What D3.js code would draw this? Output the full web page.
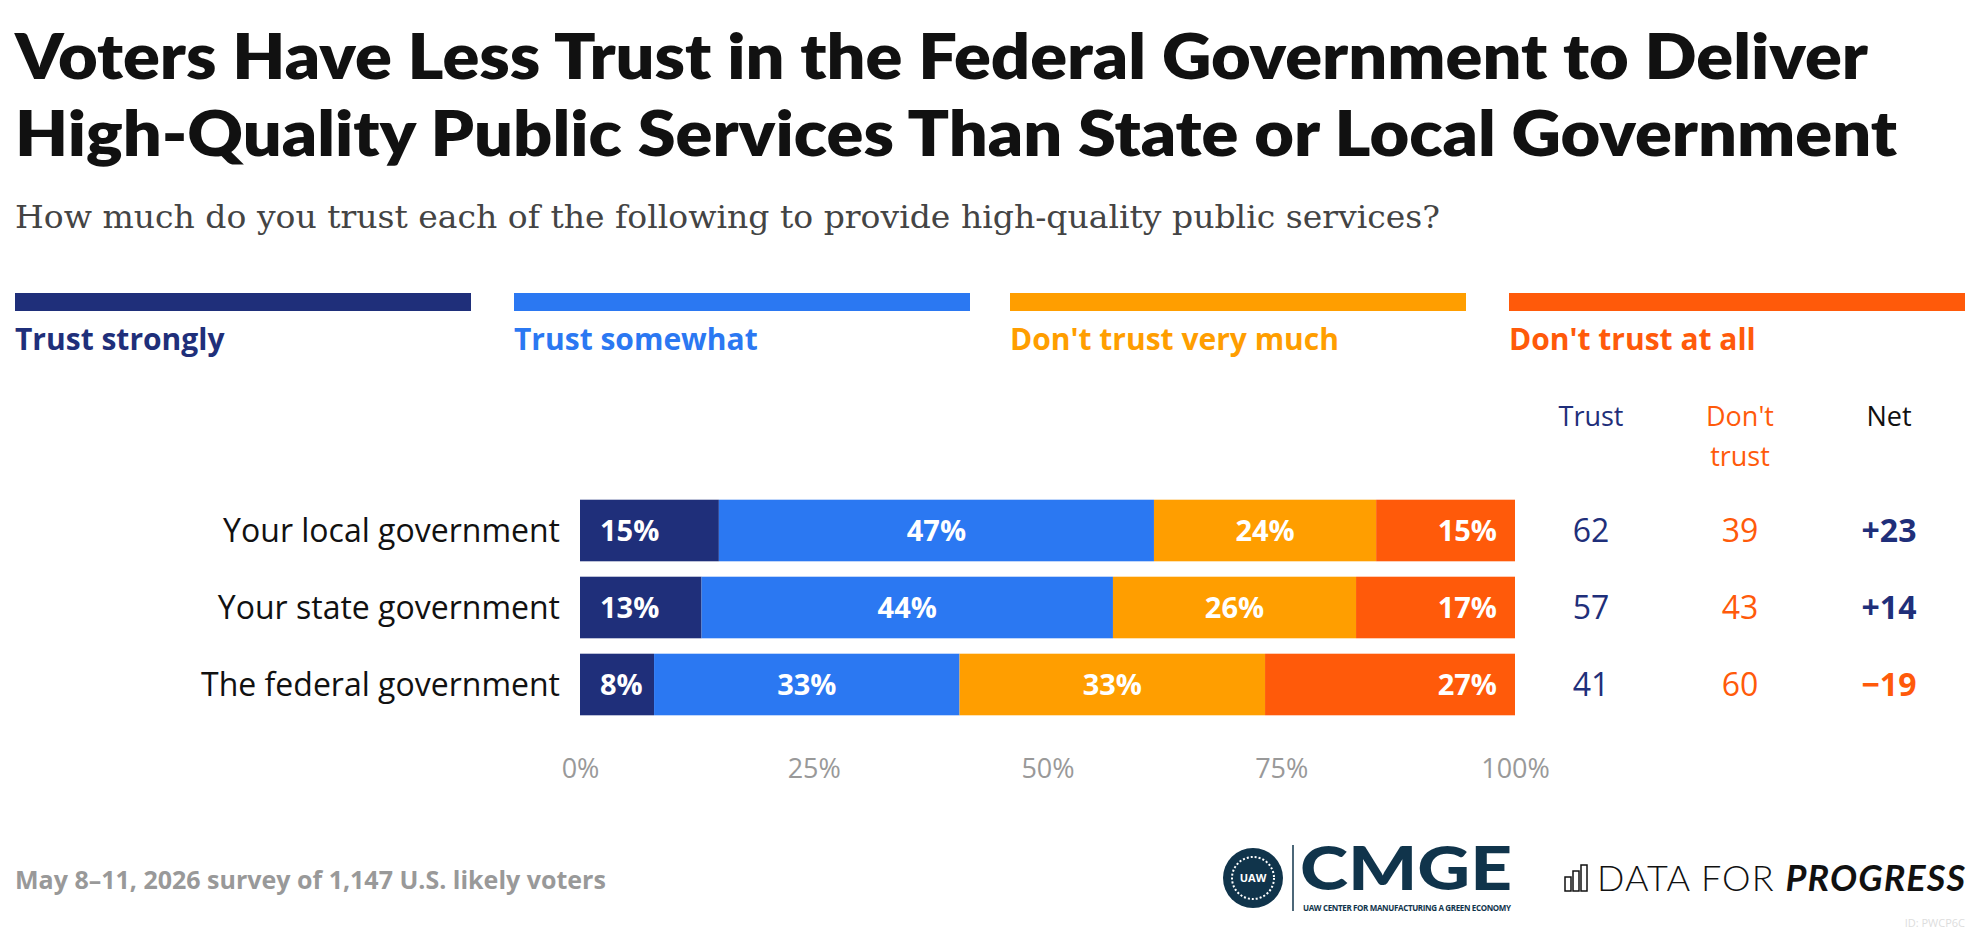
<!DOCTYPE html>
<html><head><meta charset="utf-8">
<script src="https://cdn.jsdelivr.net/npm/d3@7"></script>
<style>body{margin:0;background:#fff}svg{display:block;font-family:"Open Sans",sans-serif}</style>
</head><body><svg id="c" width="1980" height="934"></svg>
<script>
var categories = ["Your local government", "Your state government", "The federal government"];
var seriesNames = ["Trust strongly", "Trust somewhat", "Don't trust very much", "Don't trust at all"];
var colors = ["#1f2f7a", "#2b78f2", "#ff9e00", "#ff5a0a"];
var trustStrongly = [15, 13, 8];
var trustSomewhat = [47, 44, 33];
var notVeryMuch = [24, 26, 33];
var notAtAll = [15, 17, 27];
var trustTotal = [62, 57, 41];
var dontTrustTotal = [39, 43, 60];
var netValues = ["+23", "+14", "\u221219"];
var ticks = [0, 25, 50, 75, 100];

var svg = d3.select('#c');
svg.append('text').attr('x', 15).attr('y', 79).attr('font-size', 62).attr('font-weight', 800).attr('fill', '#111')
	.attr('font-family', 'Lato,sans-serif').attr('textLength', 1853).attr('lengthAdjust', 'spacingAndGlyphs')
	.text('Voters Have Less Trust in the Federal Government to Deliver');
svg.append('text').attr('x', 15).attr('y', 156).attr('font-size', 62).attr('font-weight', 800).attr('fill', '#111')
	.attr('font-family', 'Lato,sans-serif').attr('textLength', 1882).attr('lengthAdjust', 'spacingAndGlyphs')
	.text('High-Quality Public Services Than State or Local Government');
svg.append('text').attr('x', 15).attr('y', 228).attr('fill', '#444')
	.attr('font-family', '"DejaVu Serif",serif').attr('font-size', 31).attr('textLength', 1425).attr('lengthAdjust', 'spacingAndGlyphs')
	.text('How much do you trust each of the following to provide high-quality public services?');

var legendX = [15, 514, 1010, 1509];
seriesNames.forEach(function (s, i) {
	svg.append('rect').attr('x', legendX[i]).attr('y', 293).attr('width', 456).attr('height', 18).attr('fill', colors[i]);
	svg.append('text').attr('x', legendX[i]).attr('y', 350).attr('font-size', 30).attr('font-weight', 700)
		.attr('fill', colors[i]).text(s);
});

var x = d3.scaleLinear().domain([0, 100]).range([580, 1515]);
var y = d3.scaleBand().domain(categories).range([492, 723]).paddingInner(0.2).paddingOuter(0.1);

var rows = categories.map(function (c, i) {
	var vals = [trustStrongly[i], trustSomewhat[i], notVeryMuch[i], notAtAll[i]];
	var total = d3.sum(vals), acc = 0;
	return vals.map(function (v, k) {
		var seg = {cat: c, v: v, k: k, x0: acc / total * 100, x1: (acc + v) / total * 100};
		acc += v;
		return seg;
	});
});

var g = svg.append('g');
rows.forEach(function (segs) {
	g.selectAll(null).data(segs).enter().append('rect')
		.attr('x', function (d) { return x(d.x0); })
		.attr('width', function (d) { return x(d.x1) - x(d.x0); })
		.attr('y', y(segs[0].cat)).attr('height', y.bandwidth())
		.attr('fill', function (d) { return colors[d.k]; });
	g.selectAll(null).data(segs).enter().append('text')
		.attr('x', function (d) { return d.k === 0 ? x(d.x0) + 20 : d.k === 3 ? x(d.x1) - 18 : (x(d.x0) + x(d.x1)) / 2; })
		.attr('text-anchor', function (d) { return d.k === 0 ? 'start' : d.k === 3 ? 'end' : 'middle'; })
		.attr('y', y(segs[0].cat) + y.bandwidth() / 2).attr('dy', '0.36em')
		.attr('font-size', 29).attr('font-weight', 700).attr('fill', '#fff')
		.text(function (d) { return d.v + '%'; });
});

svg.selectAll('.cat').data(categories).enter().append('text')
	.attr('x', 560).attr('y', function (d) { return y(d) + y.bandwidth() / 2; }).attr('dy', '0.36em')
	.attr('text-anchor', 'end').attr('font-size', 32).attr('fill', '#111').text(function (d) { return d; });

var axis = svg.append('g').attr('transform', 'translate(0,756)')
	.call(d3.axisBottom(x).tickValues(ticks).tickSize(0).tickFormat(function (d) { return d + '%'; }));
axis.select('.domain').remove();
axis.selectAll('text').attr('font-size', 27).attr('fill', '#999').attr('font-family', '"Open Sans",sans-serif');

var colX = [1591, 1740, 1889];
svg.append('text').attr('x', colX[0]).attr('y', 426).attr('text-anchor', 'middle').attr('font-size', 27).attr('fill', '#1f2f7a').text('Trust');
svg.append('text').attr('x', colX[1]).attr('y', 426).attr('text-anchor', 'middle').attr('font-size', 27).attr('fill', '#ff5a0a').text("Don't");
svg.append('text').attr('x', colX[1]).attr('y', 466).attr('text-anchor', 'middle').attr('font-size', 27).attr('fill', '#ff5a0a').text('trust');
svg.append('text').attr('x', colX[2]).attr('y', 426).attr('text-anchor', 'middle').attr('font-size', 27).attr('fill', '#111').text('Net');

categories.forEach(function (c, i) {
	var cy = y(c) + y.bandwidth() / 2;
	svg.append('text').attr('x', colX[0]).attr('y', cy).attr('dy', '0.36em').attr('text-anchor', 'middle').attr('font-size', 32).attr('fill', '#1f2f7a').text(trustTotal[i]);
	svg.append('text').attr('x', colX[1]).attr('y', cy).attr('dy', '0.36em').attr('text-anchor', 'middle').attr('font-size', 32).attr('fill', '#ff5a0a').text(dontTrustTotal[i]);
	svg.append('text').attr('x', colX[2]).attr('y', cy).attr('dy', '0.36em').attr('text-anchor', 'middle').attr('font-size', 32).attr('font-weight', 700)
		.attr('fill', netValues[i][0] === '+' ? '#1f2f7a' : '#ff5a0a').text(netValues[i]);
});

svg.append('text').attr('x', 15).attr('y', 889).attr('font-size', 25).attr('font-weight', 700).attr('fill', '#999')
	.text('May 8\u201311, 2026 survey of 1,147 U.S. likely voters');

// logos (approximate)
var lg = svg.append('g').attr('transform', 'translate(1253,878)');
lg.append('circle').attr('r', 30).attr('fill', '#10344b');
lg.append('circle').attr('r', 21).attr('fill', 'none').attr('stroke', '#fff').attr('stroke-width', 2).attr('stroke-dasharray', '2 2');
lg.append('text').attr('text-anchor', 'middle').attr('dy', '0.35em').attr('font-size', 11).attr('font-weight', 700).attr('fill', '#fff').text('UAW');
lg.append('line').attr('x1', 40).attr('x2', 40).attr('y1', -33).attr('y2', 33).attr('stroke', '#10344b').attr('stroke-width', 1.5);
lg.append('text').attr('x', 47).attr('y', 12).attr('font-size', 60).attr('font-weight', 900).attr('font-family', 'Lato,sans-serif')
	.attr('fill', '#10344b').attr('textLength', 212).attr('lengthAdjust', 'spacingAndGlyphs').text('CMGE');
lg.append('text').attr('x', 50).attr('y', 33).attr('font-size', 8).attr('font-weight', 700).attr('fill', '#10344b').attr('textLength', 208)
	.text('UAW CENTER FOR MANUFACTURING A GREEN ECONOMY');

var dg = svg.append('g').attr('transform', 'translate(1565,891)');
[[0, 14], [8, 20], [16, 26]].forEach(function (b) {
	dg.append('rect').attr('x', b[0]).attr('y', -b[1]).attr('width', 6).attr('height', b[1]).attr('fill', 'none').attr('stroke', '#111').attr('stroke-width', 1.5);
});
dg.append('text').attr('x', 32).attr('y', 0).attr('font-size', 36).attr('font-weight', 300).attr('fill', '#111')
	.attr('font-family', 'Lato,sans-serif').attr('textLength', 368).text('DATA FOR ')
	.append('tspan').attr('font-weight', 700).attr('font-style', 'italic').text('PROGRESS');
svg.append('text').attr('x', 1965).attr('y', 927).attr('text-anchor', 'end').attr('font-size', 11).attr('fill', '#ddd').text('ID: PWCP6C');
</script></body></html>
